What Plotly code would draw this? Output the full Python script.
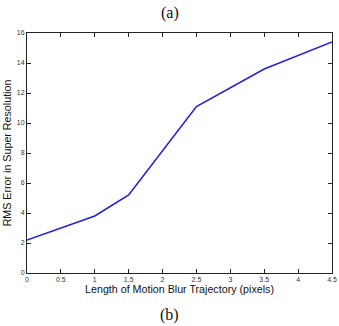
import plotly.graph_objects as go

blur_len = [0, 1, 1.5, 2.5, 3.5, 4.5]
rms_err = [2.2, 3.8, 5.2, 11.1, 13.6, 15.4]
x_ticks = [0, 0.5, 1, 1.5, 2, 2.5, 3, 3.5, 4, 4.5]
x_tick_text = ["0", "0.5", "1", "1.5", "2", "2.5", "3", "3.5", "4", "4.5"]
y_ticks = [0, 2, 4, 6, 8, 10, 12, 14, 16]

W, H = 339, 326
ML, MR, MT, MB = 27, 7, 33, 53
pw, ph = W - ML - MR, H - MT - MB

fig = go.Figure()
fig.add_trace(go.Scatter(x=blur_len, y=rms_err, mode="lines",
                         line=dict(color="#2222dd", width=1.6)))

axis_common = dict(showline=True, linecolor="#222222", linewidth=1, mirror="ticks",
                   ticks="inside", ticklen=4, tickcolor="#222222", showgrid=False,
                   zeroline=False, automargin=False,
                   tickfont=dict(family="Liberation Sans, Arial", size=7, color="#333333"))

serif = dict(family="Liberation Serif, Times New Roman", size=16, color="#111111")
cx = (W / 2 - ML) / pw

fig.update_layout(
    width=W, height=H,
    margin=dict(l=ML, r=MR, t=MT, b=MB),
    paper_bgcolor="white", plot_bgcolor="white",
    showlegend=False,
    xaxis=dict(range=[0, 4.5], tickvals=x_ticks, ticktext=x_tick_text,
               title=dict(text="Length of Motion Blur Trajectory (pixels)", standoff=2,
                          font=dict(family="Liberation Sans, Arial", size=10.7, color="#111111")),
               **axis_common),
    yaxis=dict(range=[0, 16], tickvals=y_ticks,
               title=dict(text="RMS Error in Super Resolution", standoff=3,
                          font=dict(family="Liberation Sans, Arial", size=10.7, color="#111111")),
               **axis_common),
    annotations=[
        dict(text="(a)", x=cx, xref="paper", y=1 + (MT - 13) / ph, yref="paper",
             yanchor="middle", showarrow=False, font=serif),
        dict(text="(b)", x=cx, xref="paper", y=-(315 - (H - MB)) / ph, yref="paper",
             yanchor="middle", showarrow=False, font=serif),
    ],
)

fig.write_html("out.html")
